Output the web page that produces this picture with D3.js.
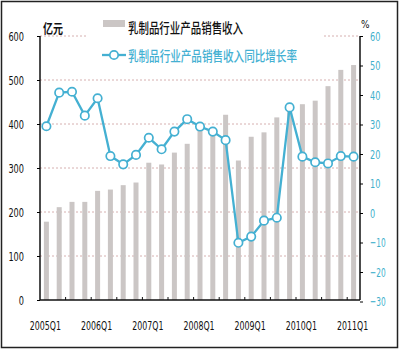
<!DOCTYPE html>
<html>
<head>
<meta charset="utf-8">
<script src="https://cdn.jsdelivr.net/npm/d3@7"></script>
<style>
  body { margin: 0; background: #fff; }
  svg { display: block; }
  .num { font-family: "Liberation Sans Narrow", "DejaVu Sans Condensed", "Liberation Sans", sans-serif; font-stretch: condensed; font-size: 13px; }
  .cjk { font-family: "Noto Sans CJK SC", sans-serif; }
</style>
</head>
<body>
<div id="chart"></div>
<script>
// quarters 2005Q1 .. 2011Q1
var quarters = ["2005Q1","2005Q2","2005Q3","2005Q4","2006Q1","2006Q2","2006Q3","2006Q4",
                "2007Q1","2007Q2","2007Q3","2007Q4","2008Q1","2008Q2","2008Q3","2008Q4",
                "2009Q1","2009Q2","2009Q3","2009Q4","2010Q1","2010Q2","2010Q3","2010Q4","2011Q1"];
// 乳制品行业产品销售收入 (亿元)
var revenue = [178, 211, 223, 223, 248, 251, 261, 267, 312, 308, 335, 355, 395, 390, 421, 317,
               371, 381, 415, 432, 445, 453, 486, 523, 534];
// 同比增长率 (%)
var growth = [29.4, 40.8, 41.1, 33.0, 38.9, 19.3, 16.5, 19.7, 25.5, 21.6, 27.6, 31.8, 29.3, 27.6, 24.7, -10.1,
              -8.0, -2.6, -1.6, 35.8, 19.1, 17.2, 16.8, 19.3, 19.1];
var xLabels = ["2005Q1","2006Q1","2007Q1","2008Q1","2009Q1","2010Q1","2011Q1"];
var leftTicks = [0, 100, 200, 300, 400, 500, 600];
var rightTicks = [-30, -20, -10, 0, 10, 20, 30, 40, 50, 60];

var W = 400, H = 351;
var lineColor = "#44b0d2";
var barColor = "#cbc6c5";
var charW = 5.2; // narrow digits like the original

function squeeze(sel) {
  sel.attr("textLength", function() { return this.textContent.length * charW; })
     .attr("lengthAdjust", "spacingAndGlyphs");
}

var svg = d3.select("#chart").append("svg")
    .attr("width", W).attr("height", H);

// outer frame
svg.append("rect")
    .attr("x", 1.5).attr("y", 1.5).attr("width", W - 4).attr("height", H - 5)
    .attr("fill", "#fff").attr("stroke", "#222").attr("stroke-width", 1.5);

var pLeft = 40, pRight = 360, pTop = 36, pBottom = 300;

var x = d3.scaleBand().domain(quarters).range([pLeft, pRight]);
var y = d3.scaleLinear().domain([0, 600]).range([pBottom, pTop]);
var y2 = d3.scaleLinear().domain([-30, 60]).range([pBottom + 1.5, pTop]);

// gridlines
svg.append("g").selectAll("line")
    .data(leftTicks.filter(function(d) { return d > 0; }))
    .enter().append("line")
      .attr("x1", pLeft).attr("x2", pRight)
      .attr("y1", function(d) { return y(d); })
      .attr("y2", function(d) { return y(d); })
      .attr("stroke", "#d6b0b0")
      .attr("stroke-width", 1)
      .attr("stroke-dasharray", "2,2");

// bars
var bw = 5;
svg.append("g").selectAll("rect")
    .data(revenue)
    .enter().append("rect")
      .attr("x", function(d, i) { return x(quarters[i]) + x.bandwidth() / 2 - bw / 2; })
      .attr("y", function(d) { return y(d); })
      .attr("width", bw)
      .attr("height", function(d) { return pBottom - y(d); })
      .attr("fill", barColor);

// legend background (hides part of top gridline)
svg.append("rect")
    .attr("x", 86).attr("y", 12).attr("width", 236).attr("height", 56)
    .attr("fill", "#fff");

// left axis
var yAxis = svg.append("g")
    .attr("transform", "translate(" + pLeft + ",0)")
    .call(d3.axisLeft(y).tickValues(leftTicks).tickSize(3).tickPadding(13));
yAxis.attr("font-size", null).attr("font-family", null);
yAxis.select(".domain").attr("stroke", "#111").attr("stroke-width", 1.5).attr("d", "M0," + pTop + "V" + pBottom);
yAxis.selectAll("text").attr("class", "num").attr("fill", "#111").call(squeeze);

// right axis
var y2Axis = svg.append("g")
    .attr("transform", "translate(" + pRight + ",0)")
    .call(d3.axisRight(y2).tickValues(rightTicks).tickSize(3).tickPadding(7));
y2Axis.attr("font-size", null).attr("font-family", null);
y2Axis.select(".domain").attr("stroke", "#111").attr("stroke-width", 1.5).attr("d", "M0," + pTop + "V" + pBottom);
y2Axis.selectAll("text").attr("class", "num").attr("fill", "#3fb0cc").call(squeeze);

// bottom axis
svg.append("line")
    .attr("x1", pLeft).attr("x2", pRight).attr("y1", pBottom).attr("y2", pBottom)
    .attr("stroke", "#111").attr("stroke-width", 1.5);
var tickPos = d3.range(2, quarters.length, 2).map(function(k) { return pLeft + k * x.step(); });
svg.append("g").selectAll("line")
    .data(tickPos)
    .enter().append("line")
      .attr("x1", function(d) { return d; }).attr("x2", function(d) { return d; })
      .attr("y1", pBottom).attr("y2", pBottom - 3)
      .attr("stroke", "#111").attr("stroke-width", 1);
svg.append("g").selectAll("text")
    .data(xLabels)
    .enter().append("text")
      .attr("class", "num")
      .attr("x", function(d) { return x(d) + x.bandwidth() / 2 - 1; })
      .attr("y", 330)
      .attr("text-anchor", "middle")
      .attr("fill", "#111")
      .text(function(d) { return d; })
      .call(squeeze);

// growth line
var line = d3.line()
    .x(function(d, i) { return x(quarters[i]) + x.bandwidth() / 2; })
    .y(function(d) { return y2(d); });
svg.append("path")
    .datum(growth)
    .attr("d", line)
    .attr("fill", "none")
    .attr("stroke", lineColor)
    .attr("stroke-width", 2.3);
svg.append("g").selectAll("circle")
    .data(growth)
    .enter().append("circle")
      .attr("cx", function(d, i) { return x(quarters[i]) + x.bandwidth() / 2; })
      .attr("cy", function(d) { return y2(d); })
      .attr("r", 4.2)
      .attr("fill", "#fff")
      .attr("stroke", lineColor)
      .attr("stroke-width", 1.7);

// unit labels
svg.append("text").attr("class", "cjk")
    .attr("x", 43).attr("y", 33)
    .attr("font-size", 13).attr("font-weight", "bold").attr("fill", "#111")
    .attr("textLength", 20).attr("lengthAdjust", "spacingAndGlyphs")
    .text("亿元");
svg.append("text").attr("class", "num")
    .attr("x", 361).attr("y", 28)
    .style("font-size", "10px").attr("fill", "#111")
    .text("%");

// legend
svg.append("rect")
    .attr("x", 103).attr("y", 20).attr("width", 22).attr("height", 7)
    .attr("fill", barColor);
svg.append("text").attr("class", "cjk")
    .attr("x", 128).attr("y", 33)
    .attr("font-size", 14).attr("font-weight", 500).attr("fill", "#111")
    .attr("textLength", 115).attr("lengthAdjust", "spacingAndGlyphs")
    .text("乳制品行业产品销售收入");
svg.append("line")
    .attr("x1", 102).attr("x2", 126).attr("y1", 55).attr("y2", 55)
    .attr("stroke", lineColor).attr("stroke-width", 2.3);
svg.append("circle")
    .attr("cx", 114).attr("cy", 55).attr("r", 4.2)
    .attr("fill", "#fff").attr("stroke", lineColor).attr("stroke-width", 1.7);
svg.append("text").attr("class", "cjk")
    .attr("x", 128).attr("y", 61)
    .attr("font-size", 14).attr("font-weight", 500).attr("fill", lineColor)
    .attr("textLength", 169).attr("lengthAdjust", "spacingAndGlyphs")
    .text("乳制品行业产品销售收入同比增长率");
</script>
</body>
</html>
